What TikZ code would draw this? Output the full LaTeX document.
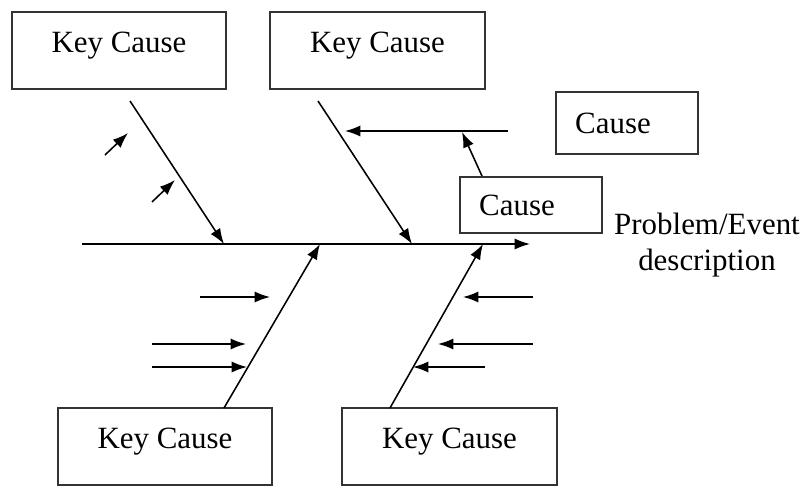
\documentclass[tikz,border=0pt]{standalone}
\usepackage{fontspec}
\setmainfont{Liberation Serif}
\usetikzlibrary{arrows.meta}
\begin{document}
\begin{tikzpicture}[x=0.025cm,y=-0.025cm,>={Latex[length=11pt,width=8pt]},
  every node/.style={font=\fontsize{22}{25}\selectfont},
  keybox/.style={draw=black!80,line width=1.4pt,minimum width=5.36cm,minimum height=1.925cm,text height=0.55cm,text depth=0.45cm},
  causebox/.style={draw=black!80,line width=1.4pt,minimum width=3.55cm,inner xsep=0.48cm,text width=2.59cm,align=left},
  bone/.style={->,line width=1.1pt}]
  \useasboundingbox (0,0) rectangle (803,487);

  % key causes
  \node[keybox] (kc1) at (119,50.5) {Key Cause};
  \node[keybox] (kc2) at (377.5,50.5) {Key Cause};
  \node[keybox] (kc3) at (165,446.5) {Key Cause};
  \node[keybox] (kc4) at (449.5,446.5) {Key Cause};

  % sub causes
  \node[causebox,minimum height=1.55cm] (cs1) at (627,123) {Cause};
  \node[causebox,minimum height=1.4cm] (cs2) at (531,205) {Cause};

  % spine
  \coordinate (tail) at (82,244);
  \coordinate (head) at (530,244);
  \draw[bone] (tail) -- (head);
  \node[align=center] (prob) at (707,245) {Problem/Event\\description};

  % bones
  \coordinate (b1) at (130,101);  \coordinate (e1) at (224,244);
  \coordinate (b2) at (318,101);  \coordinate (e2) at (412,244);
  \coordinate (b3) at (224,408);  \coordinate (e3) at (320,244);
  \coordinate (b4) at (390,408);  \coordinate (e4) at (483,244);
  \foreach \i in {1,...,4}
    \draw[bone] (b\i) -- (e\i);

  % small arrows
  \foreach \a/\b/\c/\d in {105/155/128/133, 152/202/175/180,
      508/131/345/131,
      200/297/270/297, 152/344/246/344, 152/367/247/367,
      533/297/463/297, 533/344/438/344, 485/367/413/367}
    \draw[bone] (\a,\b) -- (\c,\d);
  \coordinate (up) at (462,132);
  \draw[bone] ([xshift=0.575cm]cs2.north west) -- (up);
\end{tikzpicture}
\end{document}
